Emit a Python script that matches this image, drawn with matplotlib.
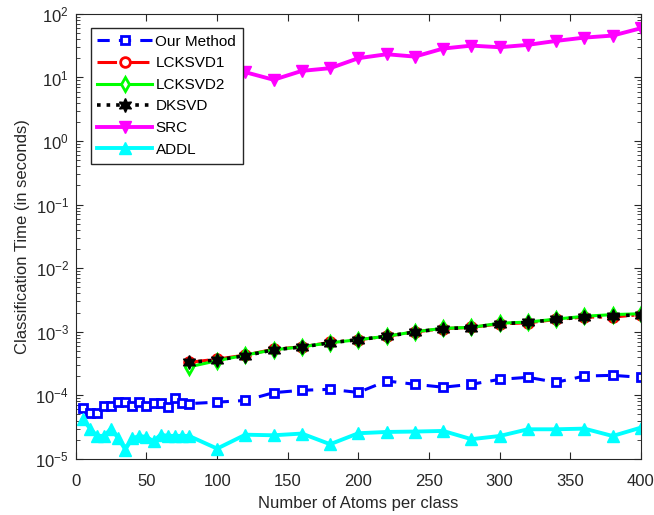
import matplotlib
matplotlib.use('Agg')
import matplotlib.pyplot as plt

plt.rcParams['font.family'] = ['Liberation Sans', 'DejaVu Sans']

# 横轴：每类原子数
x_dense = [5, 10, 15, 20, 25, 30, 35, 40, 45, 50, 55, 60, 65, 70, 75, 80,
           100, 120, 140, 160, 180, 200, 220, 240, 260, 280, 300, 320, 340, 360, 380, 400]
x_sparse = [80, 100, 120, 140, 160, 180, 200, 220, 240, 260, 280, 300, 320, 340, 360, 380, 400]
y_ticks = [1e-5, 1e-4, 1e-3, 1e-2, 1e-1, 1e0, 1e1, 1e2]

# 分类时间（秒）
our_method = [6.3e-5, 5.3e-5, 5.2e-5, 6.8e-5, 6.9e-5, 7.8e-5, 7.8e-5, 6.8e-5, 7.8e-5, 6.8e-5,
              7.6e-5, 7.5e-5, 6.5e-5, 9.0e-5, 7.5e-5, 7.4e-5,
              7.8e-5, 8.3e-5, 1.1e-4, 1.2e-4, 1.24e-4, 1.11e-4, 1.68e-4, 1.49e-4, 1.34e-4,
              1.49e-4, 1.78e-4, 1.92e-4, 1.60e-4, 2.01e-4, 2.06e-4, 1.92e-4]
lcksvd1 = [3.3e-4, 3.7e-4, 4.3e-4, 5.3e-4, 5.8e-4, 6.8e-4, 7.5e-4, 8.5e-4, 9.9e-4, 1.12e-3,
           1.17e-3, 1.33e-3, 1.38e-3, 1.56e-3, 1.70e-3, 1.70e-3, 1.86e-3]
lcksvd2 = [2.8e-4, 3.5e-4, 4.3e-4, 5.2e-4, 5.8e-4, 6.7e-4, 7.5e-4, 8.5e-4, 1.0e-3, 1.13e-3,
           1.17e-3, 1.36e-3, 1.42e-3, 1.58e-3, 1.75e-3, 1.86e-3, 1.92e-3]
dksvd = [3.3e-4, 3.6e-4, 4.2e-4, 5.2e-4, 5.75e-4, 6.7e-4, 7.5e-4, 8.5e-4, 9.9e-4, 1.12e-3,
         1.16e-3, 1.34e-3, 1.40e-3, 1.56e-3, 1.71e-3, 1.76e-3, 1.86e-3]
src = [12.0, 13.0, 12.1, 9.2, 12.7, 14.0, 20.1, 23.2, 21.3, 28.5,
       31.7, 29.9, 32.6, 37.6, 42.4, 45.6, 59.5]
addl = [4.2e-5, 3.0e-5, 2.3e-5, 2.3e-5, 3.0e-5, 2.1e-5, 1.4e-5, 2.1e-5, 2.3e-5, 2.2e-5,
        1.9e-5, 2.4e-5, 2.3e-5, 2.3e-5, 2.3e-5, 2.3e-5,
        1.45e-5, 2.4e-5, 2.35e-5, 2.5e-5, 1.70e-5, 2.53e-5, 2.65e-5, 2.69e-5, 2.75e-5,
        2.04e-5, 2.29e-5, 2.92e-5, 2.92e-5, 2.99e-5, 2.29e-5, 3.1e-5]

fig = plt.figure(figsize=(6.54, 5.15), dpi=100)
ax = fig.add_axes([0.116, 0.109, 0.864, 0.864])

lw = 2.2
ax.plot(x_dense, our_method, color='blue', linestyle=(0, (4, 3)), linewidth=lw, marker='s',
        markersize=6, markerfacecolor='white', markeredgewidth=2, label='Our Method')
ax.plot(x_sparse, lcksvd1, color='red', linestyle='-.', linewidth=lw, marker='o',
        markersize=7, markerfacecolor='white', markeredgewidth=2, label='LCKSVD1')
ax.plot(x_sparse, lcksvd2, color='#00ff00', linestyle='-', linewidth=lw, marker='d',
        markersize=7, markerfacecolor='white', markeredgewidth=2, label='LCKSVD2')
ax.plot(x_sparse, dksvd, color='black', linestyle=':', linewidth=lw + 0.4, marker=(6, 1, 0),
        markersize=10, markerfacecolor='black', label='DKSVD')
ax.plot(x_sparse, src, color='magenta', linestyle='-', linewidth=lw + 0.6, marker='v',
        markersize=9, label='SRC')
ax.plot(x_dense, addl, color='cyan', linestyle='-', linewidth=lw + 0.6, marker='^',
        markersize=9, label='ADDL')

ax.set_yscale('log')
ax.set_xlim(0, 400)
ax.set_ylim(1e-5, 1e2)
ax.set_yticks(y_ticks)
ax.set_xticks([0, 50, 100, 150, 200, 250, 300, 350, 400])
ax.set_xlabel('Number of Atoms per class', fontsize=12, color='#262626', labelpad=5)
ax.set_ylabel('Classification Time (in seconds)', fontsize=12, color='#262626')
ax.tick_params(axis='both', which='both', direction='in', top=True, right=True,
               labelsize=12, colors='#262626')
ax.tick_params(which='major', length=5)
ax.tick_params(which='minor', length=3)
ax.tick_params(axis='x', pad=11)
ax.tick_params(axis='y', pad=5)
for s in ax.spines.values():
    s.set_color('#262626')

leg = ax.legend(loc='upper left', bbox_to_anchor=(0.026, 0.969), borderaxespad=0,
                numpoints=1, handlelength=3.6, fontsize=11, fancybox=False, framealpha=1,
                edgecolor='#262626', borderpad=0.45, labelspacing=0.5, handletextpad=0.2)
leg.get_frame().set_linewidth(1.0)

plt.savefig('out.png', dpi=100)
